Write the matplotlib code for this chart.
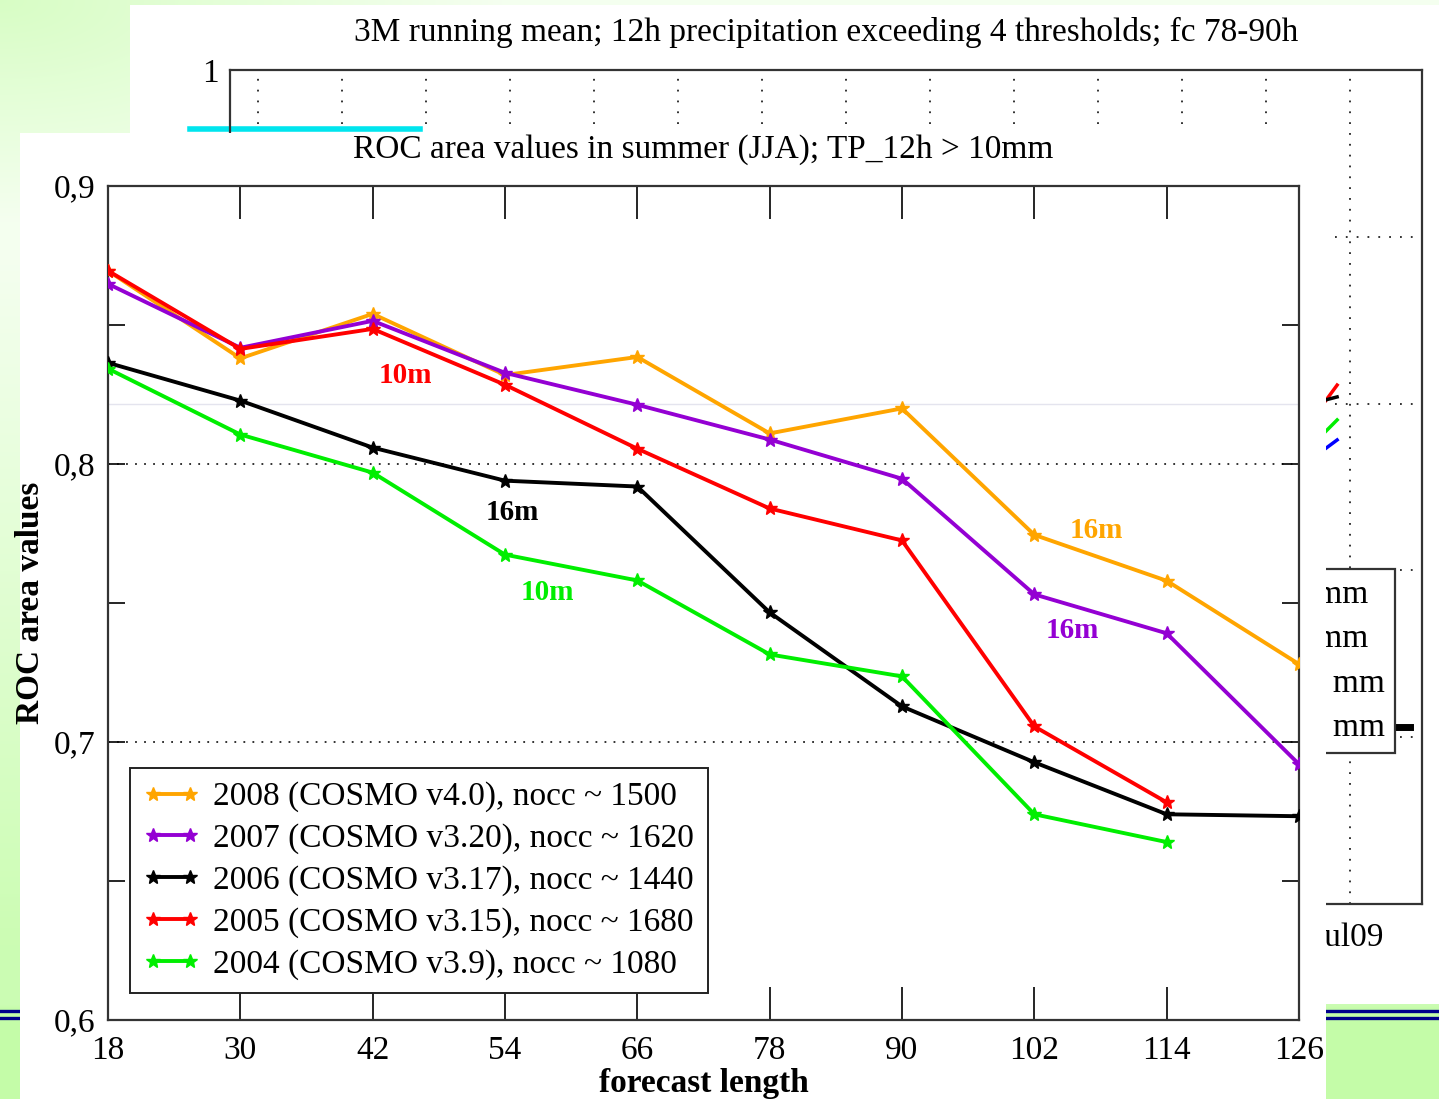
import numpy as np
import matplotlib
matplotlib.use("Agg")
import matplotlib.pyplot as plt
import matplotlib.transforms as mtransforms
from matplotlib.ticker import FuncFormatter

plt.rcParams['font.family'] = ['Liberation Serif', 'DejaVu Serif']

# forecast length (h) and ROC area per summer
lead = [18, 30, 42, 54, 66, 78, 90, 102, 114, 126]
roc_2008 = [0.8695, 0.838, 0.854, 0.832, 0.8385, 0.811, 0.820, 0.7745, 0.758, 0.728]
roc_2007 = [0.8648, 0.8418, 0.8515, 0.8328, 0.8213, 0.8088, 0.7947, 0.7531, 0.7391, 0.692]
roc_2006 = [0.8364, 0.8228, 0.8059, 0.794, 0.7919, 0.7466, 0.7128, 0.6927, 0.674, 0.6733]
roc_2005 = [0.8695, 0.8414, 0.8486, 0.8285, 0.8055, 0.784, 0.7725, 0.7056, 0.6783]
roc_2004 = [0.8343, 0.8106, 0.7969, 0.7674, 0.7581, 0.7315, 0.7236, 0.674, 0.664]

series = [roc_2008, roc_2007, roc_2006, roc_2005, roc_2004]
labels = ["2008 (COSMO v4.0), nocc ~ 1500",
          "2007 (COSMO v3.20), nocc ~ 1620",
          "2006 (COSMO v3.17), nocc ~ 1440",
          "2005 (COSMO v3.15), nocc ~ 1680",
          "2004 (COSMO v3.9), nocc ~ 1080"]
colors = ["#ffa500", "#9400d3", "#000000", "#ff0000", "#00ee00"]

# mesh-size notes on the curves
note_text = ["10m", "16m", "10m", "16m", "16m"]
note_x = [45.0, 54.7, 57.8, 107.6, 105.4]
note_y = [0.832, 0.7826, 0.7538, 0.776, 0.740]
note_col = ["#ff0000", "#000000", "#00ee00", "#ffa500", "#9400d3"]

# slide behind: 3M running mean chart (only the edges are visible)
months = ["jun08", "jul08", "aug08", "sep08", "oct08", "nov08", "dec08",
          "jan09", "feb09", "mar09", "apr09", "may09", "jun09", "jul09"]
bg_thr = ["TP_12h > 1 mm", "TP_12h > 5 mm", "TP_12h > 10 mm", "TP_12h > 20 mm"]
bg_col = ["#ff0000", "#000000", "#00ee00", "#0000ff"]
bg_x = [12.8, 13.18]
bg_vals = [[0.785, 0.8111], [0.799, 0.804], [0.771, 0.7902], [0.764, 0.7782]]
bg_tail_x = [13.87, 14.05]
bg_tail_y = [0.606, 0.606]
bg_cyan_x = [-0.476, 2.26]
bg_cyan_y = [0.9646, 0.9646]

W, H = 1439, 1099
fig = plt.figure(figsize=(W / 100, H / 100), dpi=100)


def px_axes(x0, y0, x1, y1, z):
    return fig.add_axes([x0 / W, 1 - y1 / H, (x1 - x0) / W, (y1 - y0) / H], zorder=z)


# green slide background
bg = px_axes(0, 0, W, H, 0)
yy, xx = np.mgrid[0:H:4, 0:W:4]
g = np.clip(1 - np.hypot(xx / 500, yy / 220), 0, 1) * 0.6 + np.clip((yy - 250) / 700, 0, 1) * 0.85
g = np.clip(g, 0, 1)
g[yy > 1004] = 1.0
pale = np.array([0.96, 1.0, 0.94])
green = np.array([0.77, 0.99, 0.66])
img = pale[None, None, :] * (1 - g[..., None]) + green[None, None, :] * g[..., None]
bg.imshow(img, extent=(0, W, H, 0), aspect='auto', interpolation='bilinear')
bg.add_patch(plt.Rectangle((130, 5), W - 130, 999, color='white', lw=0))
for yl in (1011, 1018):
    bg.plot([0, W], [yl, yl], color='#00008b', lw=2.4)
bg.set_xlim(0, W)
bg.set_ylim(H, 0)
bg.set_axis_off()

# old chart behind
ax_old = px_axes(230, 70, 1422, 904, 1)
ax_old.set_facecolor('none')
ax_old.set_xlim(0, 1192 / 84)
ax_old.set_ylim(0.5, 1.0)
ax_old.set_xticks([1 / 3 + k for k in range(len(months))])
ax_old.set_xticklabels([m if m == months[-1] else "" for m in months])
ax_old.set_yticks([0.5, 0.6, 0.7, 0.8, 0.9, 1.0])
ax_old.set_yticklabels(["0,5", "0,6", "0,7", "0,8", "0,9", "1"])
ax_old.tick_params(direction='in', top=True, right=True, length=0, labelsize=24)
ax_old.tick_params(axis='x', pad=13)
ax_old.tick_params(axis='y', pad=8)
ax_old.grid(True, color='#222222', linestyle=(0, (1, 5)), lw=1.3)
for sp in ax_old.spines.values():
    sp.set_linewidth(1.6)
    sp.set_color('#333333')
bg_lines = []
for vals, c in zip(bg_vals, bg_col):
    ln, = ax_old.plot(bg_x, vals, color=c, lw=2.5)
    bg_lines.append(ln)
ax_old.plot(bg_tail_x, bg_tail_y, color='black', lw=5, clip_on=False)
ax_old.plot(bg_cyan_x, bg_cyan_y, color='#00e5ee', lw=4, clip_on=False)
leg_old = ax_old.legend(bg_lines, bg_thr, loc='upper right',
                        bbox_to_anchor=((1395 - 230) / 1192, (904 - 569) / 834),
                        borderaxespad=0, fancybox=False, framealpha=1,
                        edgecolor='#333333', fontsize=24, labelspacing=0.42,
                        borderpad=0.3)
leg_old.get_frame().set_linewidth(1.6)
ax_old.set_title("3M running mean; 12h precipitation exceeding 4 thresholds; fc 78-90h",
                 fontsize=24, pad=21)

# white panel of the front chart
panel = px_axes(20, 133, 1326, 1099, 2)
panel.set_xticks([])
panel.set_yticks([])
for sp in panel.spines.values():
    sp.set_visible(False)
panel.set_facecolor('white')

# front chart
ax = px_axes(108, 186, 1299, 1020, 3)
ax.set_facecolor('white')
faint = mtransforms.blended_transform_factory(ax.transAxes, ax_old.transData)
ax.plot([0, 1], [0.8, 0.8], transform=faint, color='#e4e4ee', lw=1.0, zorder=1)

for vals, lab, c in zip(series, labels, colors):
    ax.plot(lead[:len(vals)], vals, color=c, lw=2.8, marker='*', ms=10,
            label=lab, zorder=3)

for t, x, y, c in zip(note_text, note_x, note_y, note_col):
    ax.text(x, y, t, color=c, fontsize=21, fontweight='bold', ha='center', va='center')

ax.set_xlim(18, 126)
ax.set_ylim(0.6, 0.9)
ax.set_xticks(lead)
ax.set_yticks([0.6, 0.7, 0.8, 0.9])
ax.set_yticks([0.65, 0.75, 0.85], minor=True)
ax.yaxis.set_major_formatter(FuncFormatter(lambda v, p: f"{v:.1f}".replace('.', ',')))
ax.tick_params(axis='x', direction='in', top=True, length=24, width=1.2, labelsize=24, pad=11)
ax.tick_params(axis='y', which='both', direction='in', right=True, length=12, width=1.2,
               labelsize=24, pad=9)
ax.grid(True, axis='y', which='major', color='#222222', linestyle=(0, (1, 4)), lw=1.3)
for sp in ax.spines.values():
    sp.set_linewidth(1.6)
    sp.set_color('#333333')

ax.set_title("ROC area values in summer (JJA); TP_12h > 10mm", fontsize=24, pad=20)
ax.set_xlabel("forecast length", fontsize=24, fontweight='bold')
ax.set_ylabel("ROC area values", fontsize=24, fontweight='bold')
ax.xaxis.set_label_coords(0.5, -(1068 - 1020) / 834)
ax.yaxis.set_label_coords(-(108 - 46) / 1191, 0.5)

leg = ax.legend(loc='lower left', bbox_to_anchor=((130 - 108) / 1191, (1020 - 993) / 834),
                borderaxespad=0, fancybox=False, framealpha=1, edgecolor='#222222',
                fontsize=24, handlelength=1.7, handletextpad=0.4, labelspacing=0.33,
                borderpad=0.4, numpoints=2)
leg.get_frame().set_linewidth(1.4)

fig.savefig("out.png", dpi=100)
